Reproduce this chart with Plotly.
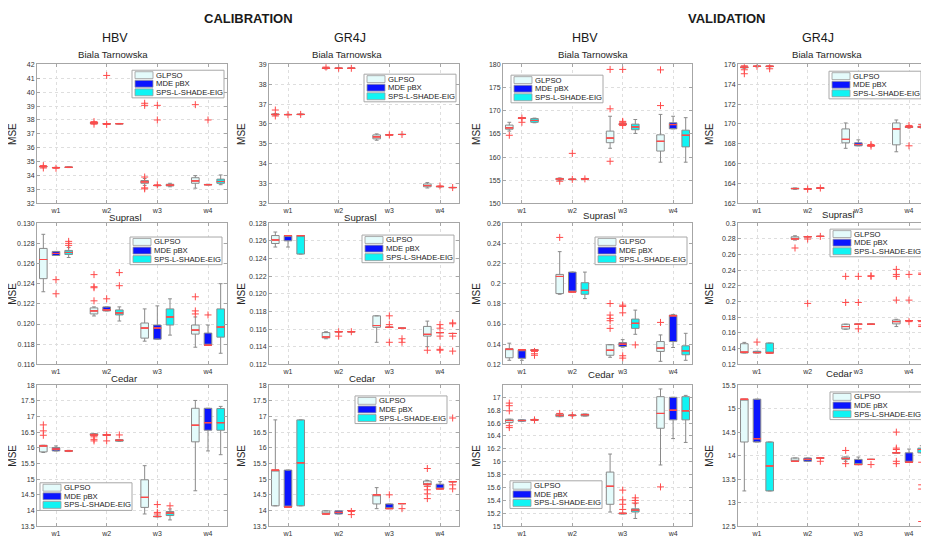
import plotly.graph_objects as go

W, H = 929, 537

# ---------------- data ----------------
GROUPS = ["w1", "w2", "w3", "w4"]
SERIES = ["GLPSO", "MDE pBX", "SPS-L-SHADE-EIG"]
SECTIONS = ["CALIBRATION", "VALIDATION"]
MODELS = ["HBV", "GR4J", "HBV", "GR4J"]
CATCHMENTS = ["Biala Tarnowska", "Suprasl", "Cedar"]
YLABEL = "MSE"

# each entry per group: [lower whisker, q1, median, q3, upper whisker]
CAL_HBV_BIALA = {
    "GLPSO": [[34.62, 34.63, 34.65, 34.67, 34.68], [37.74, 37.76, 37.79, 37.81, 37.83],
              [33.30, 33.45, 33.55, 33.65, 33.80], [33.10, 33.45, 33.62, 33.85, 34.00]],
    "MDE pBX": [[34.56, 34.57, 34.58, 34.59, 34.60], [37.70, 37.71, 37.72, 37.73, 37.74],
                [33.27, 33.28, 33.29, 33.30, 33.31], [33.33, 33.34, 33.35, 33.37, 33.38]],
    "SPS-L-SHADE-EIG": [[34.58, 34.59, 34.60, 34.62, 34.63], [37.71, 37.72, 37.73, 37.74, 37.75],
                        [33.20, 33.26, 33.32, 33.38, 33.45], [33.35, 33.45, 33.58, 33.75, 34.05]],
}
CAL_HBV_BIALA_OUT = {
    "GLPSO": [[34.55, 34.72], [37.70, 37.88], [39.20, 39.05, 33.90, 33.12, 33.05], [39.10]],
    "MDE pBX": [[34.53], [41.20, 37.68], [39.05, 38.00, 33.34], [38.00]],
    "SPS-L-SHADE-EIG": [[], [], [], []],
}

CAL_GR4J_BIALA = {
    "GLPSO": [[36.44, 36.46, 36.48, 36.50, 36.52], [38.77, 38.79, 38.80, 38.82, 38.83],
              [35.18, 35.25, 35.35, 35.45, 35.50], [32.78, 32.84, 32.90, 32.98, 33.05]],
    "MDE pBX": [[36.46, 36.47, 36.47, 36.48, 36.49], [38.79, 38.80, 38.80, 38.81, 38.81],
                [35.44, 35.45, 35.45, 35.46, 35.47], [32.83, 32.84, 32.85, 32.86, 32.87]],
    "SPS-L-SHADE-EIG": [[36.46, 36.47, 36.48, 36.49, 36.50], [38.79, 38.80, 38.80, 38.81, 38.81],
                        [35.46, 35.47, 35.47, 35.48, 35.48], [32.79, 32.80, 32.80, 32.81, 32.81]],
}
CAL_GR4J_BIALA_OUT = {
    "GLPSO": [[36.70, 36.40], [38.86], [], []],
    "MDE pBX": [[36.47], [38.80], [35.45], [32.88]],
    "SPS-L-SHADE-EIG": [[36.48], [38.80], [35.47], [32.80]],
}

VAL_HBV_BIALA = {
    "GLPSO": [[165.6, 166.0, 166.3, 166.9, 167.5], [155.0, 155.1, 155.3, 155.4, 155.5],
              [161.9, 163.1, 164.1, 165.6, 168.8], [158.9, 161.3, 163.4, 164.8, 169.2]],
    "MDE pBX": [[168.3, 168.35, 168.4, 168.45, 168.5], [155.1, 155.15, 155.2, 155.25, 155.3],
                [166.9, 167.0, 167.1, 167.2, 167.3], [166.1, 166.1, 167.0, 167.4, 168.8]],
    "SPS-L-SHADE-EIG": [[167.4, 167.5, 167.9, 168.3, 168.4], [155.2, 155.25, 155.3, 155.35, 155.4],
                        [165.1, 165.9, 166.5, 167.1, 168.1], [158.9, 162.2, 164.7, 165.8, 168.5]],
}
VAL_HBV_BIALA_OUT = {
    "GLPSO": [[164.7], [154.8], [178.9, 170.4, 159.1], [178.8, 171.1]],
    "MDE pBX": [[168.4, 167.5], [155.2, 160.8], [178.9, 167.7, 167.5, 166.8], []],
    "SPS-L-SHADE-EIG": [[], [155.3], [], []],
}

VAL_GR4J_BIALA = {
    "GLPSO": [[175.6, 175.65, 175.7, 175.75, 175.8], [163.42, 163.46, 163.50, 163.54, 163.56],
              [167.55, 168.1, 168.45, 169.5, 170.1], [167.2, 167.9, 169.5, 170.1, 170.4]],
    "MDE pBX": [[175.75, 175.78, 175.8, 175.82, 175.83], [163.44, 163.45, 163.46, 163.47, 163.48],
                [167.8, 167.8, 167.93, 168.1, 168.4], [169.6, 169.65, 169.7, 169.75, 169.8]],
    "SPS-L-SHADE-EIG": [[175.75, 175.77, 175.8, 175.82, 175.83], [163.52, 163.53, 163.55, 163.56, 163.57],
                        [167.78, 167.8, 167.82, 167.84, 167.86], [169.6, 169.65, 169.7, 169.75, 169.8]],
}
VAL_GR4J_BIALA_OUT = {
    "GLPSO": [[175.85, 175.45, 175.05], [], [], []],
    "MDE pBX": [[175.8], [163.45], [], [169.85, 167.8]],
    "SPS-L-SHADE-EIG": [[175.8, 175.55], [163.55], [167.93, 167.77], [169.93]],
}

CAL_HBV_SUPRASL = {
    "GLPSO": [[0.1232, 0.1245, 0.1264, 0.1275, 0.1289], [0.1208, 0.1210, 0.1213, 0.1216, 0.1217],
              [0.1183, 0.1186, 0.1196, 0.1201, 0.1215], [0.1177, 0.1190, 0.1194, 0.1199, 0.1207]],
    "MDE pBX": [[0.1268, 0.1268, 0.1270, 0.1272, 0.1272], [0.1213, 0.1213, 0.1214, 0.1217, 0.1217],
                [0.1185, 0.1185, 0.1196, 0.1199, 0.1218], [0.1179, 0.1179, 0.1179, 0.1191, 0.1199]],
    "SPS-L-SHADE-EIG": [[0.1266, 0.1269, 0.1271, 0.1273, 0.1276], [0.1203, 0.1209, 0.1211, 0.1214, 0.1217],
                        [0.1189, 0.1199, 0.1207, 0.1215, 0.1225], [0.1171, 0.1187, 0.1197, 0.1215, 0.1240]],
}
CAL_HBV_SUPRASL_OUT = {
    "GLPSO": [[], [0.1249, 0.1237, 0.1236, 0.1223], [], [0.1227, 0.1213, 0.1210]],
    "MDE pBX": [[0.1244, 0.1230], [0.1225], [], [0.1209]],
    "SPS-L-SHADE-EIG": [[0.1282, 0.1280, 0.1278], [0.1251, 0.1238], [], []],
}

CAL_GR4J_SUPRASL = {
    "GLPSO": [[0.1253, 0.1257, 0.1261, 0.1266, 0.1270], [0.1149, 0.1150, 0.1151, 0.1156, 0.1157],
              [0.1145, 0.1162, 0.1164, 0.1175, 0.1175], [0.1140, 0.1152, 0.1154, 0.1163, 0.1169]],
    "MDE pBX": [[0.1253, 0.1260, 0.1266, 0.1266, 0.1266], [0.1157, 0.1157, 0.1157, 0.1157, 0.1157],
                [0.1162, 0.1162, 0.1162, 0.1162, 0.1162], [0.1156, 0.1156, 0.1156, 0.1156, 0.1156]],
    "SPS-L-SHADE-EIG": [[0.1245, 0.1245, 0.1266, 0.1266, 0.1266], [0.1157, 0.1157, 0.1157, 0.1157, 0.1157],
                        [0.1161, 0.1161, 0.1161, 0.1161, 0.1161], [0.1155, 0.1155, 0.1155, 0.1155, 0.1155]],
}
CAL_GR4J_SUPRASL_OUT = {
    "GLPSO": [[], [], [], [0.1136]],
    "MDE pBX": [[], [0.1157, 0.1152], [0.1175, 0.1165, 0.1145], [0.1165, 0.1161, 0.1152, 0.1137, 0.1136]],
    "SPS-L-SHADE-EIG": [[], [0.1157], [0.1149, 0.1145], [0.1167, 0.1166, 0.1152, 0.1135]],
}

VAL_HBV_SUPRASL = {
    "GLPSO": [[0.1240, 0.1265, 0.1350, 0.1355, 0.1410], [0.1895, 0.1902, 0.2072, 0.2092, 0.2318],
              [0.1270, 0.1290, 0.1340, 0.1395, 0.1395], [0.1230, 0.1328, 0.1361, 0.1426, 0.1492]],
    "MDE pBX": [[0.1240, 0.1260, 0.1344, 0.1344, 0.1344], [0.1918, 0.1918, 0.1918, 0.2115, 0.2115],
                [0.1370, 0.1377, 0.1400, 0.1416, 0.1445], [0.1367, 0.1426, 0.1682, 0.1689, 0.1695]],
    "SPS-L-SHADE-EIG": [[0.1336, 0.1338, 0.1341, 0.1344, 0.1346], [0.1852, 0.1895, 0.1934, 0.2010, 0.2115],
                        [0.1498, 0.1557, 0.1607, 0.1649, 0.1738], [0.1240, 0.1295, 0.1334, 0.1384, 0.1508]],
}
VAL_HBV_SUPRASL_OUT = {
    "GLPSO": [[], [0.2459], [0.1803, 0.1689, 0.1656, 0.1633, 0.1557], [0.1616]],
    "MDE pBX": [[], [], [0.1787, 0.1775, 0.1711, 0.1285, 0.1262], []],
    "SPS-L-SHADE-EIG": [[0.1328, 0.1305, 0.1290], [], [0.1393], []],
}

VAL_GR4J_SUPRASL = {
    "GLPSO": [[0.1345, 0.1345, 0.1356, 0.1463, 0.1480], [0.2785, 0.2795, 0.2800, 0.2827, 0.2840],
              [0.1648, 0.1650, 0.1682, 0.1712, 0.1712], [0.1682, 0.1716, 0.1745, 0.1766, 0.1775]],
    "MDE pBX": [[0.1345, 0.1345, 0.1350, 0.1366, 0.1366], [0.2827, 0.2827, 0.2827, 0.2830, 0.2830],
                [0.1712, 0.1712, 0.1712, 0.1712, 0.1712], [0.1758, 0.1758, 0.1758, 0.1758, 0.1758]],
    "SPS-L-SHADE-EIG": [[0.1345, 0.1345, 0.1345, 0.1472, 0.1472], [0.2832, 0.2832, 0.2832, 0.2832, 0.2832],
                        [0.1712, 0.1712, 0.1712, 0.1712, 0.1712], [0.1758, 0.1758, 0.1758, 0.1758, 0.1758]],
}
VAL_GR4J_SUPRASL_OUT = {
    "GLPSO": [[], [0.2684], [0.2322, 0.1989], [0.2411, 0.2347, 0.2322, 0.2019]],
    "MDE pBX": [[0.1484], [0.2798, 0.1977], [0.2322, 0.1989, 0.1653], [0.2347, 0.2019, 0.1745]],
    "SPS-L-SHADE-EIG": [[], [0.2832], [0.2322, 0.2330], [0.2364, 0.2347, 0.1745, 0.1703, 0.1682]],
}

CAL_HBV_CEDAR = {
    "GLPSO": [[15.85, 15.87, 16.06, 16.08, 16.08], [16.40, 16.40, 16.41, 16.45, 16.45],
              [13.89, 14.10, 14.42, 14.98, 15.43], [14.63, 16.19, 16.72, 17.26, 17.51]],
    "MDE pBX": [[15.90, 15.90, 15.96, 16.01, 16.06], [16.40, 16.40, 16.41, 16.42, 16.42],
                [13.80, 13.80, 13.81, 13.82, 13.82], [15.90, 16.56, 16.80, 17.26, 17.26]],
    "SPS-L-SHADE-EIG": [[15.88, 15.89, 15.90, 15.91, 15.92], [16.21, 16.21, 16.24, 16.26, 16.26],
                        [13.70, 13.84, 13.92, 13.97, 14.05], [15.78, 16.56, 16.80, 17.25, 17.32]],
}
CAL_HBV_CEDAR_OUT = {
    "GLPSO": [[16.73, 16.54, 16.40], [16.35, 16.27, 16.22], [], []],
    "MDE pBX": [[], [16.41, 16.22], [14.19, 13.94, 13.89], []],
    "SPS-L-SHADE-EIG": [[], [16.41], [14.15], []],
}

CAL_GR4J_CEDAR = {
    "GLPSO": [[14.15, 14.15, 15.29, 15.29, 16.89], [13.89, 13.89, 13.89, 13.99, 13.99],
              [14.06, 14.21, 14.50, 14.50, 14.73], [14.82, 14.82, 14.84, 14.94, 14.96]],
    "MDE pBX": [[14.11, 14.11, 14.11, 15.29, 15.29], [13.89, 13.89, 13.94, 13.99, 13.99],
                [14.06, 14.06, 14.06, 14.21, 14.21], [14.69, 14.69, 14.69, 14.84, 14.92]],
    "SPS-L-SHADE-EIG": [[14.15, 14.15, 15.52, 16.89, 16.89], [14.00, 14.00, 14.00, 14.00, 14.00],
                        [14.22, 14.22, 14.22, 14.22, 14.22], [14.92, 14.92, 14.92, 14.92, 14.92]],
}
CAL_GR4J_CEDAR_OUT = {
    "GLPSO": [[], [], [], [15.34, 14.77, 14.66, 14.53, 14.38]],
    "MDE pBX": [[], [], [14.50], []],
    "SPS-L-SHADE-EIG": [[], [13.97, 13.87], [14.06], [16.95, 14.82, 14.69]],
}

VAL_HBV_CEDAR = {
    "GLPSO": [[16.61, 16.61, 16.64, 16.66, 16.66], [16.70, 16.70, 16.72, 16.74, 16.74],
              [15.22, 15.34, 15.62, 15.84, 16.12], [15.95, 16.52, 16.75, 17.01, 17.13]],
    "MDE pBX": [[16.63, 16.63, 16.64, 16.65, 16.65], [16.71, 16.715, 16.72, 16.725, 16.73],
                [15.19, 15.19, 15.20, 15.20, 15.20], [16.36, 16.65, 16.80, 17.00, 17.00]],
    "SPS-L-SHADE-EIG": [[16.64, 16.645, 16.65, 16.655, 16.66], [16.71, 16.71, 16.73, 16.74, 16.74],
                        [15.12, 15.22, 15.25, 15.27, 15.35], [16.30, 16.65, 16.79, 17.01, 17.03]],
}
VAL_HBV_CEDAR_OUT = {
    "GLPSO": [[16.91, 16.87, 16.79, 16.56, 16.53], [16.75], [], [15.61]],
    "MDE pBX": [[], [16.72], [15.56, 15.41, 15.34, 15.26], []],
    "SPS-L-SHADE-EIG": [[16.65], [], [15.44, 15.40, 15.36], []],
}

VAL_GR4J_CEDAR = {
    "GLPSO": [[13.25, 14.29, 15.20, 15.20, 15.20], [13.88, 13.88, 13.88, 13.95, 13.95],
              [13.88, 13.92, 13.94, 13.97, 13.97], [14.06, 14.06, 14.06, 14.06, 14.06]],
    "MDE pBX": [[14.29, 14.29, 14.36, 15.20, 15.20], [13.88, 13.88, 13.92, 13.95, 13.95],
                [13.81, 13.81, 13.81, 13.92, 13.97], [13.86, 13.86, 13.86, 14.06, 14.14]],
    "SPS-L-SHADE-EIG": [[13.25, 13.25, 13.78, 14.29, 14.29], [13.95, 13.95, 13.95, 13.95, 13.95],
                        [13.92, 13.92, 13.92, 13.92, 13.92], [14.06, 14.06, 14.13, 14.16, 14.21]],
}
VAL_GR4J_CEDAR_OUT = {
    "GLPSO": [[], [], [14.11, 13.83], [14.50, 14.16, 14.13, 13.88, 13.83]],
    "MDE pBX": [[], [], [], []],
    "SPS-L-SHADE-EIG": [[], [13.88], [13.81], [13.86, 13.38, 13.29, 12.60]],
}

# ---------------- layout / style ----------------
FONT = "Liberation Sans, Arial, sans-serif"
FILL = {"GLPSO": "#e4fbfb", "MDE pBX": "#0a14ff", "SPS-L-SHADE-EIG": "#10f4f4"}
OFFSET = {"GLPSO": -0.25, "MDE pBX": 0.0, "SPS-L-SHADE-EIG": 0.25}
BOXLINE = "#8a8a8a"
MEDIAN = "#ff4a4a"
OUTLIER = "#ff4a4a"
AXISLINE = "#a6a6a6"
GRID = "#dedede"
PAGE_MARGIN = 8  # default body margin of the html page

COLS_PX = [(37, 227), (269, 459), (503, 692), (738, 928)]
ROWS_PX = [(61, 202), (222, 365), (386, 529)]

# (stats, outliers, row, col, yrange, dtick, tickformat, legend top-left px)
PANELS = [
    (CAL_HBV_BIALA, CAL_HBV_BIALA_OUT, 0, 0, [32, 42], 1, "", (132, 67)),
    (CAL_GR4J_BIALA, CAL_GR4J_BIALA_OUT, 0, 1, [32, 39], 1, "", (364, 71)),
    (VAL_HBV_BIALA, VAL_HBV_BIALA_OUT, 0, 2, [150, 180], 5, "", (511, 72)),
    (VAL_GR4J_BIALA, VAL_GR4J_BIALA_OUT, 0, 3, [162, 176], 2, "", (829, 68)),
    (CAL_HBV_SUPRASL, CAL_HBV_SUPRASL_OUT, 1, 0, [0.116, 0.130], 0.002, ".3f", (130, 236)),
    (CAL_GR4J_SUPRASL, CAL_GR4J_SUPRASL_OUT, 1, 1, [0.112, 0.128], 0.002, ".3f", (362, 234)),
    (VAL_HBV_SUPRASL, VAL_HBV_SUPRASL_OUT, 1, 2, [0.12, 0.26], 0.02, "", (595, 236)),
    (VAL_GR4J_SUPRASL, VAL_GR4J_SUPRASL_OUT, 1, 3, [0.12, 0.30], 0.02, "", (830, 228)),
    (CAL_HBV_CEDAR, CAL_HBV_CEDAR_OUT, 2, 0, [13.5, 18], 0.5, "", (40, 485)),
    (CAL_GR4J_CEDAR, CAL_GR4J_CEDAR_OUT, 2, 1, [13.5, 18], 0.5, "", (355, 397)),
    (VAL_HBV_CEDAR, VAL_HBV_CEDAR_OUT, 2, 2, [15, 17.19], 0.2, "", (510, 483)),
    (VAL_GR4J_CEDAR, VAL_GR4J_CEDAR_OUT, 2, 3, [12.5, 15.5], 0.5, "", (830, 393)),
]

SECTION_POS = [(248, 15), (727, 15)]
MODEL_POS = [(115, 34), (350, 34), (585, 34), (818, 34)]
CATCH_POS = [
    [(113, 51), (347, 51), (593, 51), (827, 51)],
    [(125, 216), (360, 216), (599, 214), (838, 213)],
    [(124, 379), (362, 379), (601, 375), (839, 374)],
]
YLAB_X = [13, 242, 477, 710]


def px(x):
    return (x - PAGE_MARGIN) / W


def py(y):
    return 1 - (y - PAGE_MARGIN) / H


fig = go.Figure()
layout = dict(
    width=W, height=H, margin=dict(l=0, r=0, t=0, b=0), autosize=False,
    paper_bgcolor="white", plot_bgcolor="white", showlegend=False,
    boxmode="overlay", font=dict(family=FONT, color="#333333"),
)
annotations = []
shapes = []

for i, (stats, outs, r, c, yr, dt, tf, leg) in enumerate(PANELS):
    n = i + 1
    xa = "x" if n == 1 else f"x{n}"
    ya = "y" if n == 1 else f"y{n}"
    xkey = "xaxis" if n == 1 else f"xaxis{n}"
    ykey = "yaxis" if n == 1 else f"yaxis{n}"
    x0, x1 = COLS_PX[c]
    y0, y1 = ROWS_PX[r]
    common = dict(showline=True, linecolor=AXISLINE, linewidth=1, mirror="ticks",
                  ticks="inside", ticklen=3, tickcolor=AXISLINE,
                  showgrid=True, gridcolor=GRID, griddash="dot", gridwidth=1,
                  zeroline=False, tickfont=dict(size=7, color="#333333", family=FONT))
    layout[xkey] = dict(domain=[px(x0), px(x1)], anchor=ya, range=[0.625, 4.375],
                        tickmode="array", tickvals=[1, 2, 3, 4], ticktext=GROUPS, **common)
    layout[ykey] = dict(domain=[py(y1), py(y0)], anchor=xa, range=yr, tick0=yr[0], dtick=dt,
                        tickformat=tf, **common)

    for s in SERIES:
        rows = stats[s]
        pos = [g + 1 + OFFSET[s] for g in range(len(GROUPS))]
        fig.add_trace(go.Box(
            x=pos, lowerfence=[v[0] for v in rows], q1=[v[1] for v in rows],
            median=[v[2] for v in rows], q3=[v[3] for v in rows],
            upperfence=[v[4] for v in rows], orientation="v",
            width=0.15, whiskerwidth=0.5, fillcolor=FILL[s],
            line=dict(color=BOXLINE, width=1), boxpoints=False,
            xaxis=xa, yaxis=ya, hoverinfo="skip", name=s))
        med = [v[2] for v in rows]
        fig.add_trace(go.Box(
            x=pos, lowerfence=med, q1=med, median=med, q3=med, upperfence=med,
            orientation="v", width=0.15, whiskerwidth=0, fillcolor="rgba(0,0,0,0)",
            line=dict(color=MEDIAN, width=1), boxpoints=False,
            xaxis=xa, yaxis=ya, hoverinfo="skip", name=s))
        ox, oy = [], []
        for g, vals in enumerate(outs[s]):
            for v in vals:
                ox.append(g + 1 + OFFSET[s])
                oy.append(v)
        if ox:
            fig.add_trace(go.Scatter(
                x=ox, y=oy, mode="markers", xaxis=xa, yaxis=ya, hoverinfo="skip",
                marker=dict(symbol="cross-thin", size=5, color=OUTLIER,
                            line=dict(color=OUTLIER, width=1))))

    # y label
    annotations.append(dict(x=px(YLAB_X[c]), y=py((y0 + y1) / 2), xref="paper", yref="paper",
                            text=YLABEL, textangle=-90, showarrow=False,
                            xanchor="center", yanchor="middle",
                            font=dict(size=10, color="#262626", family=FONT)))
    # catchment subtitle
    cx, cy = CATCH_POS[r][c]
    annotations.append(dict(x=px(cx), y=py(cy), xref="paper", yref="paper",
                            text=CATCHMENTS[r], showarrow=False,
                            xanchor="center", yanchor="middle",
                            font=dict(size=9.6, color="#262626", family=FONT)))
    # legend box
    L, T = leg
    lw, lh = 92, 28
    shapes.append(dict(type="rect", xref="paper", yref="paper", x0=px(L), x1=px(L + lw),
                       y0=py(T + lh), y1=py(T), fillcolor="white",
                       line=dict(color="#a8a8a8", width=1), layer="above"))
    for k, s in enumerate(SERIES):
        ry = T + 5 + k * 8.7
        shapes.append(dict(type="rect", xref="paper", yref="paper", x0=px(L + 3), x1=px(L + 21),
                           y0=py(ry + 3.5), y1=py(ry - 3.5), fillcolor=FILL[s],
                           line=dict(color="#9a9a9a", width=0.8), layer="above"))
        annotations.append(dict(x=px(L + 22), y=py(ry), xref="paper", yref="paper",
                                text=s, showarrow=False, xanchor="left", yanchor="middle",
                                font=dict(size=7.7, color="#1a1a1a", family=FONT)))

for k, t in enumerate(SECTIONS):
    x, y = SECTION_POS[k]
    annotations.append(dict(x=px(x), y=py(y), xref="paper", yref="paper", text=f"<b>{t}</b>",
                            showarrow=False, xanchor="center", yanchor="middle",
                            font=dict(size=13, color="#1a1a1a", family=FONT)))
for k, t in enumerate(MODELS):
    x, y = MODEL_POS[k]
    annotations.append(dict(x=px(x), y=py(y), xref="paper", yref="paper", text=t,
                            showarrow=False, xanchor="center", yanchor="middle",
                            font=dict(size=12.5, color="#1a1a1a", family=FONT)))

layout["annotations"] = annotations
layout["shapes"] = shapes
fig.update_layout(**layout)
fig.write_html("out.html")
